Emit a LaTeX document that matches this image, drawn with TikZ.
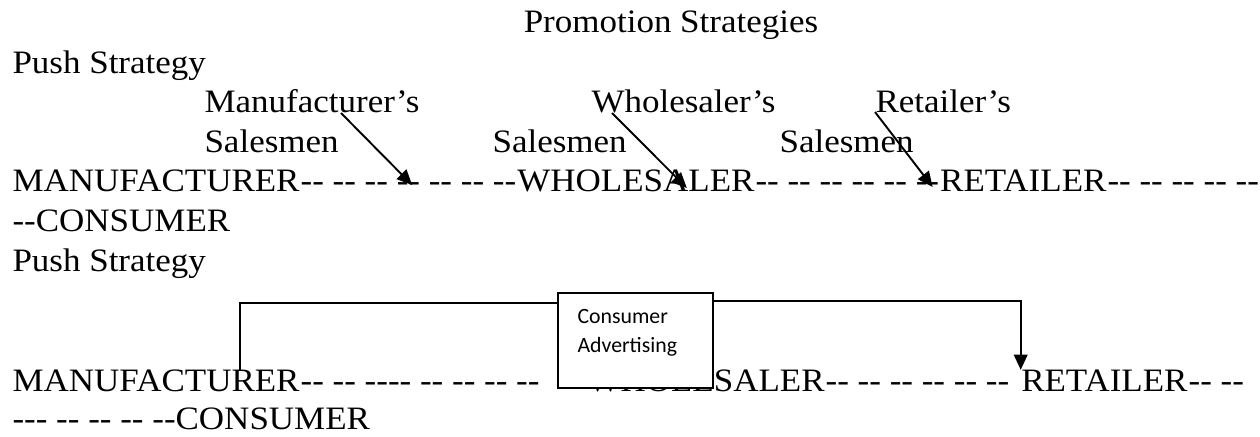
\documentclass[tikz,border=0pt]{standalone}
\usepackage{fontspec}
\usepackage{tikz}
\newfontfamily\tnr{Liberation Serif}[FakeStretch=1.07]
\newfontfamily\boxfont{Carlito}
\usetikzlibrary{arrows.meta,positioning,calc}

\tikzset{
    txt/.style={anchor=base west, inner sep=0pt, font=\tnr\fontsize{12}{14.5}\selectfont},
    ptr/.style={line width=0.7pt, -{Triangle[length=5.6pt,width=5pt]}},
    link/.style={line width=0.7pt},
    adbox/.style={draw, line width=0.7pt, fill=white, anchor=north west, inner sep=0pt,
        minimum width=56.9pt, minimum height=34.9pt},
    adtext/.style={anchor=north west, align=left, inner sep=0pt,
        font=\boxfont\fontsize{8}{10.6}\selectfont}
}

\begin{document}
\begin{tikzpicture}[x=0.367pt, y=-0.367pt]
            \path[use as bounding box, fill=white] (0,0) rectangle (1260,437);

            \node[txt, anchor=base] (title) at (671,33) {Promotion Strategies};

            % push channel with salesmen at each stage
            \node[txt] (push1) at (12,74) {Push Strategy};
            \node[txt] (mlab) at (204,113) {Manufacturer’s};
            \node[txt] (msal) at (204,153) {Salesmen};
            \node[txt] (wlab) at (591,113) {Wholesaler’s};
            \node[txt] (wsal) at (492,153) {Salesmen};
            \node[txt] (rlab) at (875,113) {Retailer’s};
            \node[txt] (rsal) at (779,153) {Salesmen};

            \node[txt] (man1) at (12,192) {MANUFACTURER};
            \node[txt, base right=0pt of man1] (d1) {-- -- -- -- -- -- --};
            \node[txt, base right=0pt of d1] (whs1) {WHOLESALER};
            \node[txt, base right=0pt of whs1] (d2) {-- -- -- -- -- --};
            \node[txt, base right=0pt of d2] (ret1) {RETAILER};
            \node[txt, base right=0pt of ret1] (d3) {-- -- -- -- --};
            \node[txt] (con1) at (12,232) {--CONSUMER};

            \coordinate (mtip) at ($(d1.base west)+(112,-7)$);
            \coordinate (wtip) at ($(whs1.base west)+(170,-4)$);
            \coordinate (rtip) at ($(ret1.base west)+(-7,-5)$);
            \draw[ptr] ($(mlab.base west)+(137,0)$) -- (mtip);
            \draw[ptr] ($(wlab.base west)+(21,0)$) -- (wtip);
            \draw[ptr] ($(rlab.base west)+(0,-1)$) -- (rtip);

            % second channel, advertising aimed past the middlemen
            \node[txt] (push2) at (12,272) {Push Strategy};
            \node[txt] (man2) at (12,392) {MANUFACTURER};
            \node[txt, base right=0pt of man2] (d4) {-- -- ---- -- -- -- --};
            \node[txt] (whs2) at (587,392) {WHOLESALER};
            \node[txt, base right=0pt of whs2] (d5) {-- -- -- -- -- --};
            \node[txt, base right=4pt of d5] (ret2) {RETAILER};
            \node[txt, base right=0pt of ret2] (d6) {-- --};
            \node[txt] (con2) at (12,430) {--- -- -- -- --CONSUMER};

            \node[adbox] (adv) at (557,292) {};
            \node[adtext] (advtxt) at ($(adv.north west)+(20,17)$) {Consumer\\Advertising};

            \draw[link] ($(adv.north west)+(0,11)$) -| ($(man2.north west)!0.79!(man2.north east)$);
            \draw[ptr] ($(adv.north east)+(0,9)$) -| (ret2.north west);
\end{tikzpicture}
\end{document}
